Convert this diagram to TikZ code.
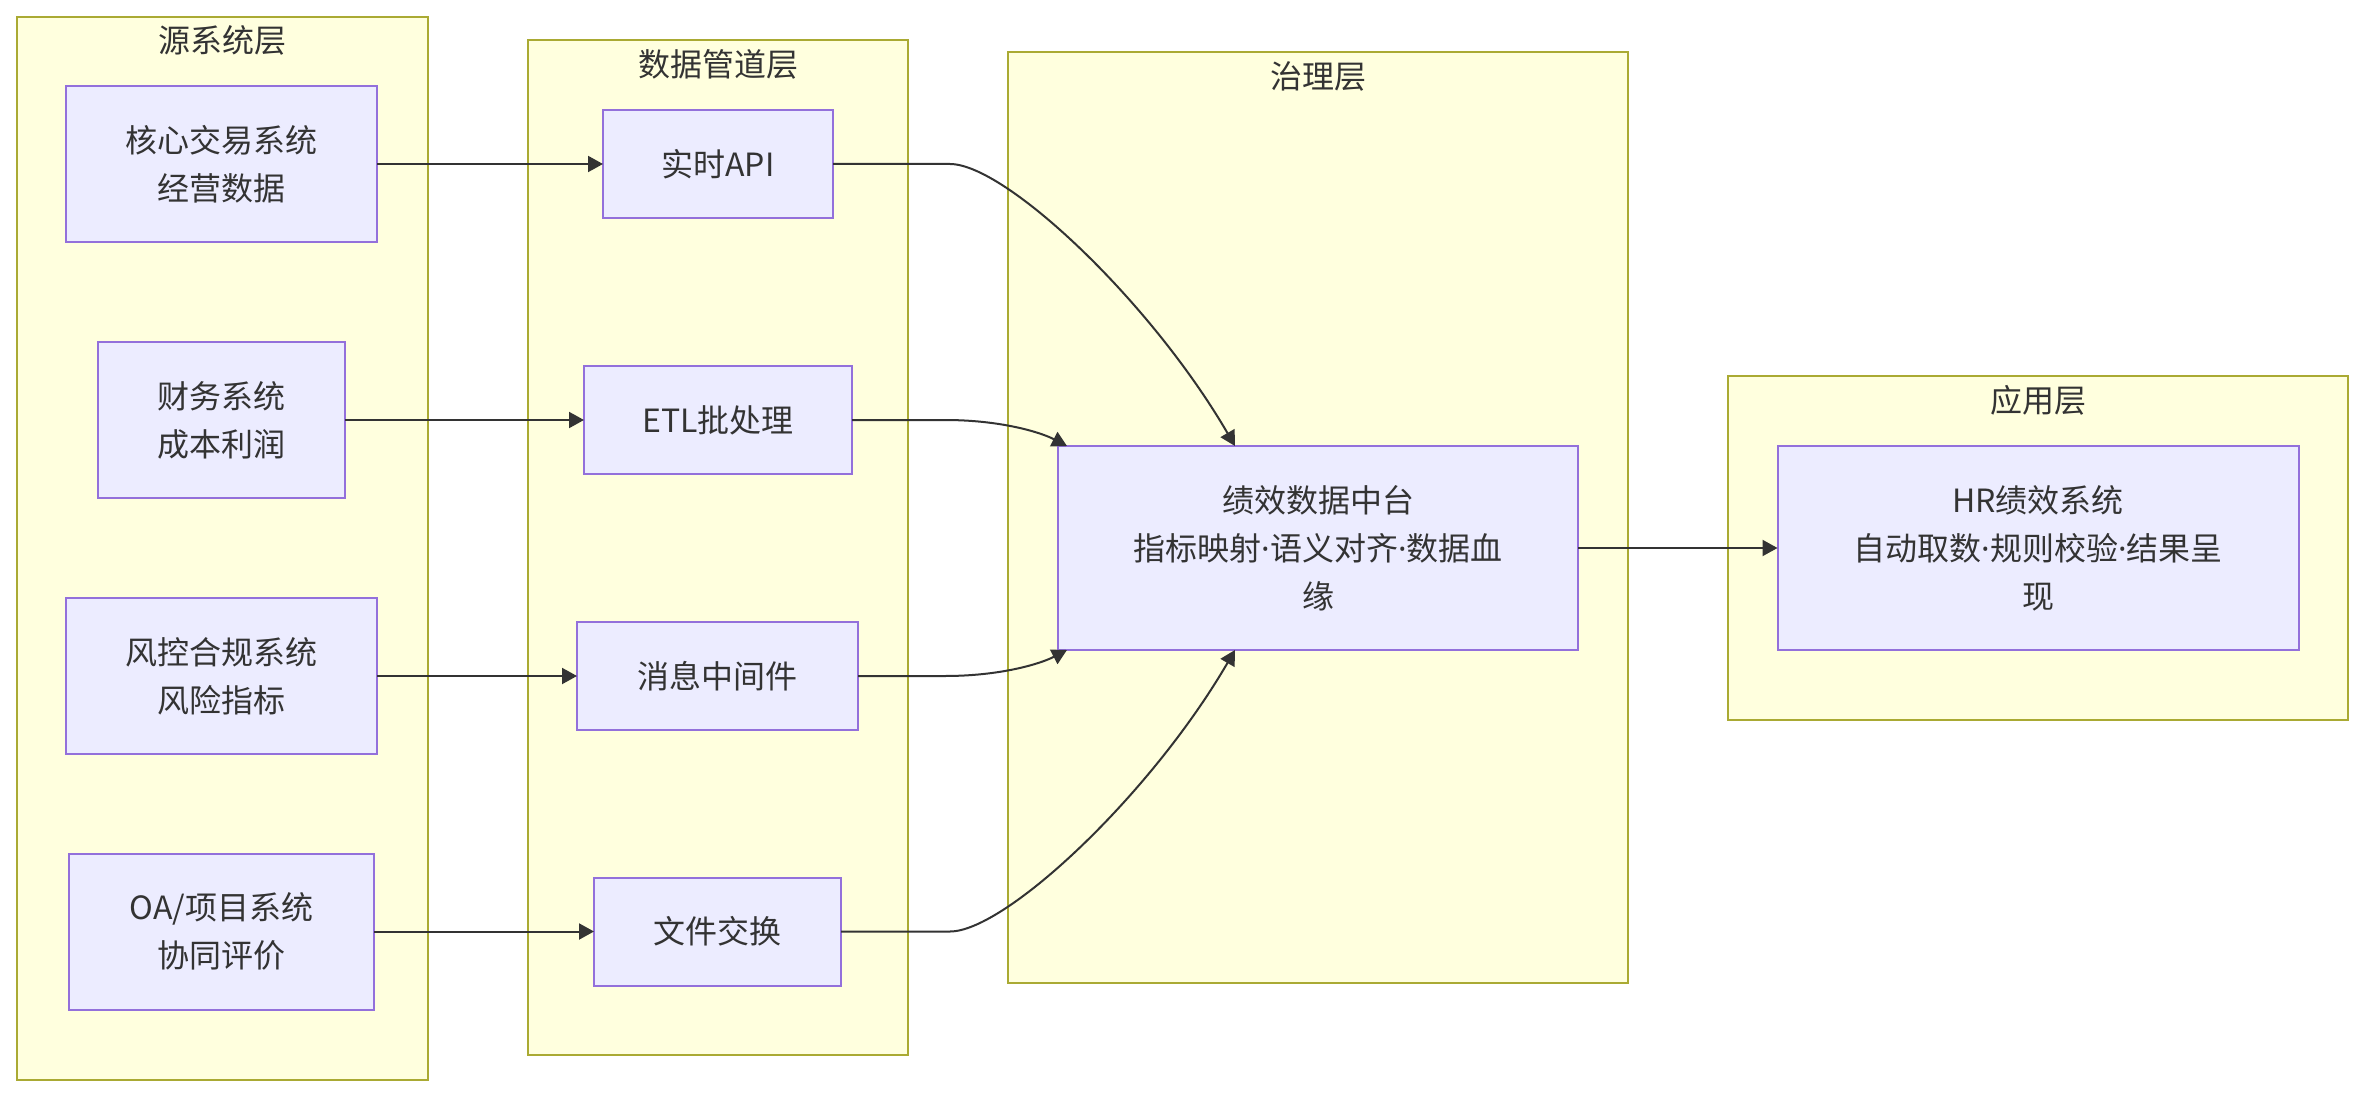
\documentclass[tikz,border=0pt]{standalone}
\usepackage{fontspec}
\setmainfont{Noto Sans CJK SC}
\newfontfamily\latinfont{Noto Sans}
\newcommand{\mdot}{{\latinfont\char"00B7}}
\usetikzlibrary{arrows.meta}
\definecolor{clfill}{HTML}{FFFFDE}
\definecolor{cldraw}{HTML}{AAAA33}
\definecolor{ndfill}{HTML}{ECECFF}
\definecolor{nddraw}{HTML}{9370DB}
\definecolor{txt}{HTML}{333333}
\begin{document}
\begin{tikzpicture}[x=0.5pt,y=-0.5pt,
  cluster/.style={draw=cldraw, fill=clfill, line width=1pt, inner sep=0pt, outer sep=0pt},
  cltitle/.style={text=txt, font=\fontsize{16}{24}\selectfont, inner sep=0pt},
  nodebox/.style={draw=nddraw, fill=ndfill, line width=1pt, text=txt, align=center,
    font=\fontsize{16}{24}\selectfont, inner sep=0pt, outer sep=0pt},
  link/.style={draw=txt, line width=1pt, -{Triangle[length=7.5pt,width=8pt]}}]
\useasboundingbox[fill=white] (0,0) rectangle (2364,1096);
% clusters
\node[cluster, minimum width=205.7pt, minimum height=531.5pt] (srcL) at (222.3,548.5) {};
\node[cluster, minimum width=190pt, minimum height=507.5pt] (pipeL) at (718,547.5) {};
\node[cluster, minimum width=310pt, minimum height=465.5pt] (govL) at (1318,517.5) {};
\node[cluster, minimum width=310pt, minimum height=172pt] (appL) at (2038,548) {};
\node[cltitle] (srcT) at (222.3,40) {源系统层};
\node[cltitle] (pipeT) at (718,64) {数据管道层};
\node[cltitle] (govT) at (1318,76) {治理层};
\node[cltitle] (appT) at (2038,400) {应用层};
% source nodes
\node[nodebox, minimum width=155.5pt, minimum height=78pt] (src1) at (221.5,164) {核心交易系统\\经营数据};
\node[nodebox, minimum width=123.5pt, minimum height=77.5pt] (src2) at (221.5,420) {财务系统\\成本利润};
\node[nodebox, minimum width=155.5pt, minimum height=78pt] (src3) at (221.5,676) {风控合规系统\\风险指标};
\node[nodebox, minimum width=152.5pt, minimum height=78pt] (src4) at (221.5,931.5) {OA/项目系统\\协同评价};
% pipeline nodes
\node[nodebox, minimum width=115pt, minimum height=54pt] (api) at (718,164) {实时API};
\node[nodebox, minimum width=134pt, minimum height=54pt] (etl) at (718,420) {ETL批处理};
\node[nodebox, minimum width=140.5pt, minimum height=54pt] (mq) at (717.5,676) {消息中间件};
\node[nodebox, minimum width=123.5pt, minimum height=54pt] (file) at (717.5,931.5) {文件交换};
% hub and app
\node[nodebox, minimum width=260pt, minimum height=102pt] (hub) at (1318,548) {绩效数据中台\\指标映射\mdot 语义对齐\mdot 数据血\\缘};
\node[nodebox, minimum width=260.5pt, minimum height=102pt] (hr) at (2038,548) {HR绩效系统\\自动取数\mdot 规则校验\mdot 结果呈\\现};
% links
\draw[link] (src1.east) -- (api.west);
\draw[link] (src2.east) -- (etl.west);
\draw[link] (src3.east) -- (mq.west);
\draw[link] (src4.east) -- (file.west);
\draw[link] (api.east) -- (950,164) .. controls (1005,164) and (1150,300) .. ([xshift=-41.5pt]hub.north);
\draw[link] (etl.east) -- (945,420) .. controls (1000,420) and (1040,432) .. ([xshift=4.5pt]hub.north west);
\draw[link] (mq.east) -- (945,676) .. controls (1000,676) and (1040,664) .. ([xshift=4.5pt]hub.south west);
\draw[link] (file.east) -- (950,931.5) .. controls (1005,931.5) and (1150,796) .. ([xshift=-41.5pt]hub.south);
\draw[link] (hub.east) -- (hr.west);
\end{tikzpicture}
\end{document}
